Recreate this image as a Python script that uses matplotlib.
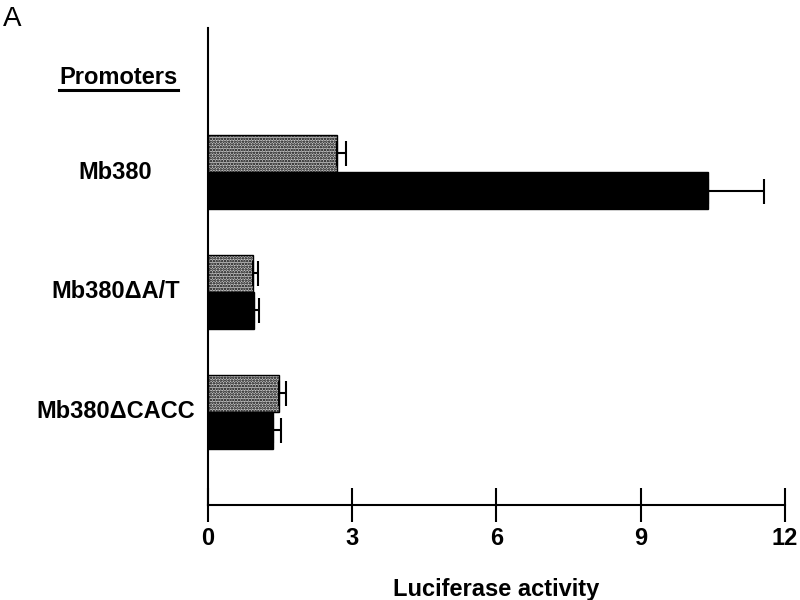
import matplotlib
matplotlib.use('Agg')
import matplotlib.pyplot as plt
import numpy as np
from matplotlib.lines import Line2D

plt.rcParams['font.family'] = ['Liberation Sans', 'DejaVu Sans']
plt.rcParams['hatch.linewidth'] = 1.2

promoters = ['Mb380', 'Mb380ΔA/T', 'Mb380ΔCACC']
stippled = [2.68, 0.94, 1.47]
stippled_err = [0.20, 0.10, 0.15]
solid = [10.4, 0.96, 1.36]
solid_err = [1.17, 0.10, 0.16]
xticks = [0, 3, 6, 9, 12]

fig = plt.figure(figsize=(8, 6), dpi=100)
ax = fig.add_axes([0.26, 0.158, 0.721, 0.795])

y = np.arange(len(promoters))
h = 0.31
ax.barh(y - h / 2, stippled, height=h, color='#c4c4c4', edgecolor='black',
        hatch='......', linewidth=1.0, zorder=2)
ax.barh(y + h / 2, solid, height=h, color='black', edgecolor='black',
        linewidth=1.0, zorder=2)
ax.errorbar(stippled, y - h / 2, xerr=[np.zeros(3), stippled_err], fmt='none',
            ecolor='black', elinewidth=1.5, capsize=9, capthick=1.5, zorder=3)
ax.errorbar(solid, y + h / 2, xerr=[np.zeros(3), solid_err], fmt='none',
            ecolor='black', elinewidth=1.5, capsize=9, capthick=1.5, zorder=3)

ax.set_xlim(0, 12)
ax.set_ylim(2.78, -1.2)
ax.spines['top'].set_visible(False)
ax.spines['right'].set_visible(False)
ax.spines['left'].set_linewidth(1.5)
ax.spines['bottom'].set_linewidth(1.5)
ax.set_yticks([])
ax.set_xticks(xticks)
ax.set_xticklabels([str(t) for t in xticks], fontsize=17, fontweight='bold')
ax.tick_params(axis='x', direction='inout', length=24, width=1.5, pad=4)
ax.set_xlabel('Luciferase activity', fontsize=17, fontweight='bold', labelpad=20)

trans = matplotlib.transforms.blended_transform_factory(fig.transFigure, ax.transData)
for i, name in enumerate(promoters):
    ax.text(0.144, i, name, transform=trans, ha='center', va='center',
            fontsize=17, fontweight='bold')

t = fig.text(0.148, 1 - 77 / 600, 'Promoters', ha='center', va='center',
             fontsize=17, fontweight='bold')
fig.text(0.004, 0.99, 'A', ha='left', va='top', fontsize=20)

fig.canvas.draw()
bb = t.get_window_extent(fig.canvas.get_renderer()).transformed(fig.transFigure.inverted())
fig.add_artist(Line2D([bb.x0, bb.x1], [bb.y0 - 0.003, bb.y0 - 0.003],
                      transform=fig.transFigure, color='black', linewidth=2.2))

fig.savefig('out.png', dpi=100)
